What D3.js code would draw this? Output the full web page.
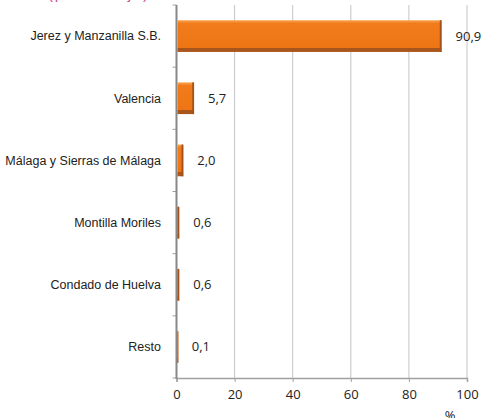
<!DOCTYPE html>
<html>
<head>
<meta charset="utf-8">
<script src="https://cdn.jsdelivr.net/npm/d3@7"></script>
<style>
  body { margin: 0; background: #fff; }
  svg { display: block; }
</style>
</head>
<body>
<script>
// horizontal bar chart, share by D.O.

var categories = ['Jerez y Manzanilla S.B.', 'Valencia', 'Málaga y Sierras de Málaga',
                  'Montilla Moriles', 'Condado de Huelva', 'Resto'];
var values = [90.9, 5.7, 2.0, 0.6, 0.6, 0.1];
var valueLabels = ['90,9', '5,7', '2,0', '0,6', '0,6', '0,1'];
var xTicks = [0, 20, 40, 60, 80, 100];

var width = 481;
var height = 418;

var svg = d3.select('body').append('svg')
    .attr('width', width)
    .attr('height', height);

var defs = svg.append('defs');
var grad = defs.append('linearGradient')
    .attr('id', 'barGrad')
    .attr('x1', 0).attr('y1', 0).attr('x2', 0).attr('y2', 1);
grad.append('stop').attr('offset', '0%').attr('stop-color', '#F8A452');
grad.append('stop').attr('offset', '10%').attr('stop-color', '#F17C1C');
grad.append('stop').attr('offset', '86%').attr('stop-color', '#EE7514');
grad.append('stop').attr('offset', '88%').attr('stop-color', '#A9561C');
grad.append('stop').attr('offset', '100%').attr('stop-color', '#A9561C');

var x = d3.scaleLinear().domain([0, 100]).range([176.5, 467]);
var y = d3.scaleBand().domain(categories).range([5, 378]).paddingInner(0.49).paddingOuter(0.245);

// title, mostly cut off at the top
svg.append('text')
    .attr('x', 48)
    .attr('y', -1)
    .attr('textLength', 100)
    .style('font-family', 'Liberation Sans')
    .style('font-size', '15px')
    .style('fill', '#C2508C')
    .text('(porcentaje)');

// gridlines
svg.append('g').selectAll('line')
    .data(xTicks.slice(1))
    .join('line')
    .attr('x1', function(d){ return x(d); })
    .attr('x2', function(d){ return x(d); })
    .attr('y1', 5)
    .attr('y2', 378)
    .attr('stroke', '#C4C4C4')
    .attr('stroke-width', 1);

// x axis
var xAxis = svg.append('g')
    .attr('transform', 'translate(0,378)')
    .call(d3.axisBottom(x).tickValues(xTicks).tickSize(4).tickFormat(d3.format('d')));
xAxis.select('.domain').attr('stroke', '#A0A0A0').attr('stroke-width', 1.5);
xAxis.selectAll('.tick line').attr('stroke', '#A0A0A0');
xAxis.selectAll('.tick text')
    .attr('y', 12)
    .style('font-family', 'Open Sans')
    .style('font-size', '13px')
    .style('fill', '#222');

// y axis line and band ticks
var bandEdges = categories.map(function(c){ return y(c) - y.step() * y.paddingInner() / 2; });
bandEdges.push(378);
svg.append('g').selectAll('line')
    .data(bandEdges)
    .join('line')
    .attr('x1', 172.5)
    .attr('x2', 176.5)
    .attr('y1', function(d){ return d; })
    .attr('y2', function(d){ return d; })
    .attr('stroke', '#A0A0A0');
svg.append('line')
    .attr('x1', 176.5).attr('x2', 176.5)
    .attr('y1', 5).attr('y2', 379)
    .attr('stroke', '#888888')
    .attr('stroke-width', 2);

// bars
var bars = svg.append('g').selectAll('g')
    .data(values)
    .join('g');
bars.append('rect')
    .attr('x', x(0) + 1)
    .attr('y', function(d, i){ return y(categories[i]); })
    .attr('width', function(d){ return Math.max(0.8, x(d) - x(0)); })
    .attr('height', y.bandwidth())
    .attr('fill', 'url(#barGrad)');
bars.append('rect')
    .attr('x', function(d){ return x(0) + 1 + Math.max(0, x(d) - x(0) - 1.8); })
    .attr('y', function(d, i){ return y(categories[i]); })
    .attr('width', function(d){ return Math.min(1.8, Math.max(0.8, x(d) - x(0))); })
    .attr('height', y.bandwidth())
    .attr('fill', '#A2521A');

// value labels
bars.append('text')
    .attr('x', function(d){ return x(d) + 15; })
    .attr('y', function(d, i){ return y(categories[i]) + y.bandwidth() / 2; })
    .attr('dy', '0.35em')
    .style('font-family', 'Open Sans')
    .style('font-size', '13px')
    .style('fill', '#222')
    .text(function(d, i){ return valueLabels[i]; });

// category labels
svg.append('g').selectAll('text')
    .data(categories)
    .join('text')
    .attr('x', 161)
    .attr('y', function(d){ return y(d) + y.bandwidth() / 2; })
    .attr('dy', '0.35em')
    .attr('text-anchor', 'end')
    .style('font-family', 'Liberation Sans')
    .style('font-size', '12.5px')
    .style('fill', '#222')
    .text(function(d){ return d; });

// unit
svg.append('text')
    .attr('x', 450)
    .attr('y', 420)
    .attr('text-anchor', 'middle')
    .style('font-family', 'Open Sans')
    .style('font-size', '13px')
    .style('fill', '#222')
    .text('%');
</script>
</body>
</html>
